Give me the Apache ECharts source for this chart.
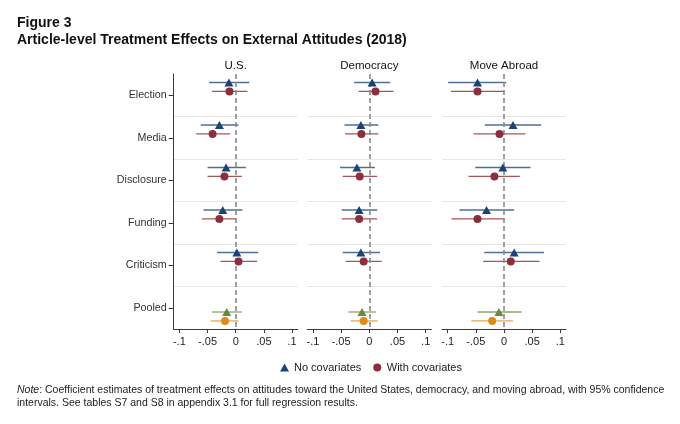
<!DOCTYPE html>
<html>
<head>
<meta charset="utf-8">
<script src="https://cdn.jsdelivr.net/npm/echarts@6/dist/echarts.min.js"></script>
<style>html,body{margin:0;padding:0;background:#fff}#c{width:680px;height:424px}</style>
</head>
<body>
<div id="c"></div>
<script>
const categories = ['Election', 'Media', 'Disclosure', 'Funding', 'Criticism', 'Pooled'];
const panelTitles = ['U.S.', 'Democracy', 'Move Abroad'];
const xTickValues = [-0.1, -0.05, 0, 0.05, 0.1];
const xTickLabels = ['-.1', '-.05', '0', '.05', '.1'];
const legendNames = ['No covariates', 'With covariates'];

// U.S.
const usNoCov     = [-0.012, -0.029, -0.017, -0.023, 0.002, -0.016];
const usNoCovLo   = [-0.047, -0.062, -0.050, -0.057, -0.033, -0.042];
const usNoCovHi   = [0.024, 0.005, 0.018, 0.012, 0.040, 0.011];
const usWithCov   = [-0.011, -0.041, -0.020, -0.029, 0.005, -0.019];
const usWithCovLo = [-0.042, -0.070, -0.050, -0.060, -0.027, -0.044];
const usWithCovHi = [0.021, -0.010, 0.011, 0.001, 0.038, 0.005];

// Democracy
const demNoCov     = [0.005, -0.015, -0.022, -0.018, -0.015, -0.013];
const demNoCovLo   = [-0.027, -0.044, -0.052, -0.049, -0.047, -0.037];
const demNoCovHi   = [0.037, 0.016, 0.010, 0.014, 0.019, 0.012];
const demWithCov   = [0.011, -0.014, -0.017, -0.018, -0.010, -0.010];
const demWithCovLo = [-0.019, -0.043, -0.047, -0.049, -0.042, -0.033];
const demWithCovHi = [0.043, 0.016, 0.014, 0.014, 0.022, 0.015];

// Move Abroad
const movNoCov     = [-0.047, 0.016, -0.002, -0.031, 0.018, -0.009];
const movNoCovLo   = [-0.099, -0.034, -0.051, -0.079, -0.035, -0.047];
const movNoCovHi   = [0.004, 0.066, 0.047, 0.018, 0.071, 0.031];
const movWithCov   = [-0.047, -0.008, -0.017, -0.047, 0.012, -0.021];
const movWithCovLo = [-0.094, -0.054, -0.063, -0.093, -0.037, -0.058];
const movWithCovHi = [0.000, 0.038, 0.028, 0.000, 0.063, 0.016];

const panels = [
  { noCov: usNoCov, noLo: usNoCovLo, noHi: usNoCovHi, wCov: usWithCov, wLo: usWithCovLo, wHi: usWithCovHi },
  { noCov: demNoCov, noLo: demNoCovLo, noHi: demNoCovHi, wCov: demWithCov, wLo: demWithCovLo, wHi: demWithCovHi },
  { noCov: movNoCov, noLo: movNoCovLo, noHi: movNoCovHi, wCov: movWithCov, wLo: movWithCovLo, wHi: movWithCovHi }
];

const FONT = '"Liberation Sans", Arial, Helvetica, sans-serif';
const C = {
  triFill: '#1c4374', triLine: '#4f6f98',
  cirFill: '#8b2f3c', cirLine: '#a4565f',
  pTriFill: '#6a8a3a', pTriLine: '#8ea565',
  pCirFill: '#e08a1c', pCirLine: '#e9a54e'
};
// row placement (layout only)
function rowBase(i) { return i < 5 ? i : 5.4; }
const triOff = 0.2, cirOff = 0.41;

const gridLefts = [173.7, 307.3, 442];
const gridW = 124, gridTop = 74, gridH = 255;

const grids = [], xAxes = [], yAxes = [], series = [], graphics = [];

panels.forEach((p, k) => {
  grids.push({ left: gridLefts[k], top: gridTop, width: gridW, height: gridH, containLabel: false });
  xAxes.push({
    type: 'value', gridIndex: k, min: -0.11, max: 0.11,
    axisLine: { show: true, onZero: false, lineStyle: { color: '#3a3a3a', width: 1 } },
    axisTick: { show: true, length: 4, customValues: xTickValues, lineStyle: { color: '#3a3a3a' } },
    axisLabel: {
      show: true, customValues: xTickValues, margin: 7,
      fontFamily: FONT, fontSize: 11, color: '#222',
      formatter: v => { const j = xTickValues.findIndex(t => Math.abs(t - v) < 1e-9); return j >= 0 ? xTickLabels[j] : ''; }
    },
    splitLine: { show: false }
  });
  // category axis for labels / gridlines
  yAxes.push({
    type: 'category', gridIndex: k, data: categories, inverse: true, boundaryGap: true, position: 'left',
    axisLine: { show: k === 0, onZero: false, lineStyle: { color: '#3a3a3a' } },
    axisTick: { show: k === 0, alignWithLabel: true, length: 5, lineStyle: { color: '#3a3a3a' } },
    axisLabel: { show: k === 0, margin: 7, fontFamily: FONT, fontSize: 10.7, color: '#333' },
    splitLine: { show: true, showMinLine: false, showMaxLine: false, lineStyle: { color: '#e6e6e6', width: 1 } }
  });
  // value axis for mark placement
  yAxes.push({
    type: 'value', gridIndex: k, min: 0, max: 6, inverse: true, show: false, position: 'right',
    axisLine: { show: false, onZero: false }, axisTick: { show: false }, axisLabel: { show: false }, splitLine: { show: false }
  });
  const yIdx = 2 * k + 1;

  const ciNo = categories.map((c, i) => [p.noLo[i], p.noHi[i], rowBase(i) + triOff, i === 5 ? 1 : 0]);
  const ciW = categories.map((c, i) => [p.wLo[i], p.wHi[i], rowBase(i) + cirOff, i === 5 ? 1 : 0]);

  const mkCI = (data, cNorm, cPool) => ({
    type: 'custom', xAxisIndex: k, yAxisIndex: yIdx, silent: true, z: 3,
    encode: { x: [0, 1], y: 2 },
    data: data,
    renderItem: (params, api) => {
      const a = api.coord([api.value(0), api.value(2)]);
      const b = api.coord([api.value(1), api.value(2)]);
      return { type: 'line', shape: { x1: a[0], y1: a[1], x2: b[0], y2: b[1] },
        style: { stroke: api.value(3) ? cPool : cNorm, lineWidth: 1.3 } };
    }
  });
  series.push(mkCI(ciNo, C.triLine, C.pTriLine));
  series.push(mkCI(ciW, C.cirLine, C.pCirLine));

  series.push({
    name: legendNames[0], type: 'scatter', xAxisIndex: k, yAxisIndex: yIdx, z: 5,
    symbol: 'triangle', symbolSize: [9, 8],
    itemStyle: { color: C.triFill, opacity: 1 },
    data: categories.map((c, i) => i === 5
      ? { value: [p.noCov[i], rowBase(i) + triOff], itemStyle: { color: C.pTriFill } }
      : [p.noCov[i], rowBase(i) + triOff]),
    markLine: {
      silent: true, symbol: 'none', label: { show: false },
      lineStyle: { color: '#8a8a8a', type: [5, 3], width: 1.6 },
      data: [{ xAxis: 0 }]
    }
  });
  series.push({
    name: legendNames[1], type: 'scatter', xAxisIndex: k, yAxisIndex: yIdx, z: 5,
    symbol: 'circle', symbolSize: 8,
    itemStyle: { color: C.cirFill, opacity: 1 },
    data: categories.map((c, i) => i === 5
      ? { value: [p.wCov[i], rowBase(i) + cirOff], itemStyle: { color: C.pCirFill } }
      : [p.wCov[i], rowBase(i) + cirOff])
  });

  graphics.push({
    type: 'text', x: gridLefts[k] + gridW / 2, y: 65.5,
    style: { text: panelTitles[k], fontFamily: FONT, fontSize: 11.5, fill: '#111', align: 'center', verticalAlign: 'middle' }
  });
});

graphics.push({
  type: 'text', x: 17, y: 23,
  style: { text: 'Figure 3', fontFamily: FONT, fontSize: 14, fontWeight: 'bold', fill: '#111', verticalAlign: 'middle' }
});
graphics.push({
  type: 'text', x: 17, y: 40.5,
  style: { text: 'Article-level Treatment Effects on External Attitudes (2018)', fontFamily: FONT, fontSize: 14, fontWeight: 'bold', fill: '#111', verticalAlign: 'middle' }
});
graphics.push({
  type: 'text', x: 17, y: 390,
  style: {
    text: '{i|Note}: Coefficient estimates of treatment effects on attitudes toward the United States, democracy, and moving abroad, with 95% confidence',
    fontFamily: FONT, fontSize: 10.5, fill: '#222', verticalAlign: 'middle',
    rich: { i: { fontStyle: 'italic', fontFamily: FONT, fontSize: 10.5, fill: '#222' } }
  }
});
graphics.push({
  type: 'text', x: 17, y: 403.5,
  style: { text: 'intervals. See tables S7 and S8 in appendix 3.1 for full regression results.', fontFamily: FONT, fontSize: 10.5, fill: '#222', verticalAlign: 'middle' }
});

const chart = echarts.init(document.getElementById('c'), null, { renderer: 'canvas' });
chart.setOption({
  animation: false,
  backgroundColor: '#fff',
  textStyle: { fontFamily: FONT },
  grid: grids, xAxis: xAxes, yAxis: yAxes, series: series, graphic: graphics,
  legend: {
    data: [{ name: legendNames[0], icon: 'triangle' }, { name: legendNames[1], icon: 'circle' }],
    left: 280, top: 362, padding: 0, itemWidth: 9, itemHeight: 8, itemGap: 12,
    textStyle: { fontFamily: FONT, fontSize: 11, color: '#222' }
  }
});
</script>
</body>
</html>
